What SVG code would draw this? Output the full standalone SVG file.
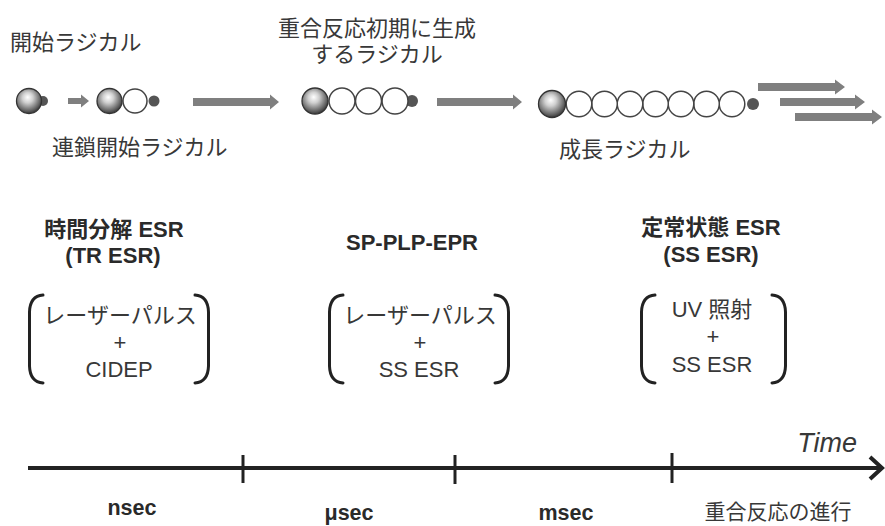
<svg xmlns="http://www.w3.org/2000/svg" width="885" height="526" viewBox="0 0 885 526">
<defs>
<radialGradient id="sph" cx="0.45" cy="0.4" r="0.6" fx="0.45" fy="0.35">
<stop offset="0" stop-color="#ffffff"/>
<stop offset="0.35" stop-color="#d0d0d0"/>
<stop offset="0.8" stop-color="#6a6a6a"/>
<stop offset="1" stop-color="#3a3a3a"/>
</radialGradient>
<style>
text{font-family:"Liberation Sans","Noto Sans CJK JP",sans-serif;fill:#383838;}
.j{font-size:22px;}
.h{font-size:22px;font-weight:bold;text-anchor:middle;fill:#2a2a2a;}
.b{font-size:22px;text-anchor:middle;}
.t{font-size:21.5px;font-weight:bold;text-anchor:middle;fill:#2a2a2a;}
.sph{fill:url(#sph);stroke:#333;stroke-width:1.3;}
.wc{fill:#fff;stroke:#444;stroke-width:1.5;}
.dot{fill:#555;}
.fa{fill:#7f7f7f;}
.br{fill:none;stroke:#222;stroke-width:3;stroke-linecap:round;}
.ax{fill:none;stroke:#222;stroke-width:4;}
.tk{stroke:#222;stroke-width:3;}
</style>
</defs>

<g id="label-start">
<text class="j" x="10" y="50">開始ラジカル</text>
</g>
<g id="label-chain-start">
<text class="j" x="52" y="155">連鎖開始ラジカル</text>
</g>
<g id="label-early">
<text class="j" x="377" y="36" text-anchor="middle">重合反応初期に生成</text>
<text class="j" x="377" y="62" text-anchor="middle">するラジカル</text>
</g>
<g id="label-growth">
<text class="j" x="559" y="157">成長ラジカル</text>
</g>

<g id="radical-start">
<circle class="dot" cx="43" cy="101" r="5"/>
<circle class="sph" cx="29" cy="101" r="12.5"/>
</g>
<g id="radical-chain-start">
<circle class="dot" cx="154" cy="101" r="5.5"/>
<circle class="wc" cx="135" cy="101" r="12"/>
<circle class="sph" cx="109.5" cy="101" r="12.5"/>
</g>
<g id="radical-early">
<circle class="dot" cx="412" cy="101" r="6"/>
<circle class="wc" cx="395" cy="101" r="13"/>
<circle class="wc" cx="368.5" cy="101" r="13"/>
<circle class="wc" cx="342" cy="101" r="13"/>
<circle class="sph" cx="315" cy="101" r="13"/>
</g>
<g id="radical-growth">
<circle class="dot" cx="753" cy="104" r="6"/>
<circle class="wc" cx="732" cy="104" r="12.8"/>
<circle class="wc" cx="706.5" cy="104" r="12.8"/>
<circle class="wc" cx="681" cy="104" r="12.8"/>
<circle class="wc" cx="655.5" cy="104" r="12.8"/>
<circle class="wc" cx="630" cy="104" r="12.8"/>
<circle class="wc" cx="604.5" cy="104" r="12.8"/>
<circle class="wc" cx="579" cy="104" r="12.8"/>
<circle class="sph" cx="552" cy="104" r="13.5"/>
</g>

<g id="connectors">
<path class="fa" d="M68,98 H81 V94.5 L89,101 L81,107.5 V104 H68 Z"/>
<path class="fa" d="M193,98 H270 V94.5 L279,102 L270,109.5 V106 H193 Z"/>
<path class="fa" d="M437,98 H513 V94.5 L522,102 L513,109.5 V106 H437 Z"/>
<path class="fa" d="M758,83 H835 V79.5 L845,87 L835,94.5 V91 H758 Z"/>
<path class="fa" d="M780,98 H855 V94.5 L865,102 L855,109.5 V106 H780 Z"/>
<path class="fa" d="M795,113 H872 V109.5 L882,117 L872,124.5 V121 H795 Z"/>
</g>

<g id="method-tr">
<text class="h" x="114" y="237">時間分解 ESR</text>
<text class="h" x="113" y="263">(TR ESR)</text>
<path class="br" d="M43,295 Q30,296 29.5,312 V366 Q30,382 43,383"/>
<path class="br" d="M195,295 Q208,296 208.5,312 V366 Q208,382 195,383"/>
<text class="b" x="120" y="323">レーザーパルス</text>
<text class="b" x="120" y="350">+</text>
<text class="b" x="119" y="377">CIDEP</text>
</g>

<g id="method-sp">
<text class="h" x="412" y="250">SP-PLP-EPR</text>
<path class="br" d="M343,295 Q330,296 329.5,312 V366 Q330,382 343,383"/>
<path class="br" d="M495,295 Q508,296 508.5,312 V366 Q508,382 495,383"/>
<text class="b" x="420" y="323">レーザーパルス</text>
<text class="b" x="420" y="350">+</text>
<text class="b" x="419" y="377">SS ESR</text>
</g>

<g id="method-ss">
<text class="h" x="711" y="235">定常状態 ESR</text>
<text class="h" x="711" y="262">(SS ESR)</text>
<path class="br" d="M655,295 Q642,296 641.5,312 V366 Q642,382 655,383"/>
<path class="br" d="M772,295 Q785,296 785.5,312 V366 Q785,382 772,383"/>
<text class="b" x="712" y="317">UV 照射</text>
<text class="b" x="713" y="344">+</text>
<text class="b" x="712" y="372">SS ESR</text>
</g>

<g id="timeline">
<line class="ax" x1="28" y1="468" x2="881" y2="468"/>
<polyline class="ax" points="870,457 882,468 870,479"/>
<line class="tk" x1="243" y1="455" x2="243" y2="483"/>
<line class="tk" x1="455" y1="455" x2="455" y2="484"/>
<line class="tk" x1="672" y1="453" x2="672" y2="483"/>
<text x="857" y="452" text-anchor="end" style="font-size:27px;font-style:italic;">Time</text>
<text class="t" x="132" y="515">nsec</text>
<text class="t" x="349" y="520">μsec</text>
<text class="t" x="566" y="520">msec</text>
<text x="778" y="519" text-anchor="middle" style="font-size:21px;">重合反応の進行</text>
</g>
</svg>
